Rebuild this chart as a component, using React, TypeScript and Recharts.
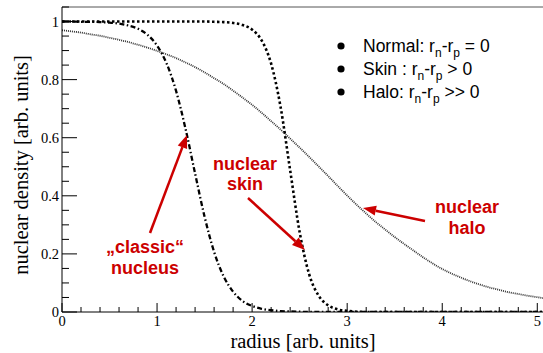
import { LineChart, Line, XAxis, YAxis, ReferenceLine } from 'recharts';

// radius samples [arb. units]
const radius = [
  0, 0.1, 0.2, 0.3, 0.4, 0.5, 0.6, 0.7, 0.8, 0.9,
  1, 1.1, 1.2, 1.3, 1.4, 1.5, 1.6, 1.7, 1.8, 1.9,
  2, 2.1, 2.2, 2.3, 2.4, 2.5, 2.6, 2.7, 2.8, 2.9,
  3, 3.1, 3.2, 3.3, 3.4, 3.5, 3.6, 3.7, 3.8, 3.9,
  4, 4.1, 4.2, 4.3, 4.4, 4.5, 4.6, 4.7, 4.8, 4.9,
  5, 5.1,
];

// "classic" nucleus (dash-dot)
const classic = [
  1.0, 1.0, 0.999, 0.999, 0.998, 0.996, 0.993, 0.986, 0.975, 0.954,
  0.917, 0.856, 0.761, 0.63, 0.477, 0.328, 0.207, 0.123, 0.07, 0.038,
  0.021, 0.011, 0.006, 0.003, 0.002, 0.001, 0, 0, 0, 0,
  0, 0, 0, 0, 0, 0, 0, 0, 0, 0,
  0, 0, 0, 0, 0, 0, 0, 0, 0, 0,
  0, 0,
];

// nuclear skin (dotted)
const skin = [
  1.0, 1.0, 1.0, 1.0, 1.0, 1.0, 1.0, 1.0, 1.0, 1.0,
  1.0, 1.0, 1.0, 1.0, 1.0, 1.0, 0.999, 0.998, 0.995, 0.988,
  0.972, 0.935, 0.855, 0.705, 0.488, 0.275, 0.13, 0.056, 0.023, 0.009,
  0.004, 0.001, 0, 0, 0, 0, 0, 0, 0, 0,
  0, 0, 0, 0, 0, 0, 0, 0, 0, 0,
  0, 0,
];

// nuclear halo (fine dotted)
const halo = [
  0.97, 0.966, 0.962, 0.956, 0.951, 0.944, 0.937, 0.929, 0.92, 0.91,
  0.899, 0.887, 0.874, 0.859, 0.843, 0.825, 0.805, 0.785, 0.762, 0.738,
  0.713, 0.686, 0.657, 0.628, 0.597, 0.566, 0.534, 0.501, 0.468, 0.434,
  0.401, 0.369, 0.339, 0.31, 0.284, 0.258, 0.234, 0.211, 0.188, 0.167,
  0.148, 0.132, 0.118, 0.105, 0.094, 0.084, 0.076, 0.068, 0.062, 0.056,
  0.051, 0.046,
];

const xMajor = [0, 1, 2, 3, 4, 5];
const xMinor = [0.2, 0.4, 0.6, 0.8, 1.2, 1.4, 1.6, 1.8, 2.2, 2.4, 2.6, 2.8, 3.2, 3.4, 3.6, 3.8, 4.2, 4.4, 4.6, 4.8];
const yMajor = [0, 0.2, 0.4, 0.6, 0.8, 1];
const yMinor = [0.05, 0.1, 0.15, 0.25, 0.3, 0.35, 0.45, 0.5, 0.55, 0.65, 0.7, 0.75, 0.85, 0.9, 0.95, 1.05];

const data = radius.map((r, i) => ({
  r,
  classic: classic[i],
  skin: skin[i],
  halo: halo[i],
}));

const RED = '#cc0000';
const SERIF = '"Liberation Serif", "DejaVu Serif", serif';
const SANS = '"Liberation Sans", Arial, sans-serif';

const XTick = (props: any) => {
  const { x, y, payload } = props;
  const major = xMajor.includes(payload.value);
  return (
    <g>
      <line x1={x} x2={x} y1={y} y2={y - (major ? 9 : 5)} stroke="#000" strokeWidth={1} />
      {major && (
        <text x={x} y={y + 14} textAnchor="middle" fontFamily={SERIF} fontSize={14.5} fill="#000">
          {payload.value}
        </text>
      )}
    </g>
  );
};

const YTick = (props: any) => {
  const { x, y, payload } = props;
  const major = yMajor.includes(payload.value);
  return (
    <g>
      <line x1={x} x2={x + (major ? 15 : 7)} y1={y} y2={y} stroke="#000" strokeWidth={1} />
      {major && (
        <text x={x - 3} y={y + 5} textAnchor="end" fontFamily={SERIF} fontSize={14.5} fill="#000">
          {payload.value}
        </text>
      )}
    </g>
  );
};

const Arrow = ({ x1, y1, x2, y2 }: { x1: number; y1: number; x2: number; y2: number }) => {
  const ang = Math.atan2(y2 - y1, x2 - x1);
  const len = 13;
  const w = 5;
  const bx = x2 - len * Math.cos(ang);
  const by = y2 - len * Math.sin(ang);
  const px = -Math.sin(ang) * w;
  const py = Math.cos(ang) * w;
  return (
    <g>
      <line x1={x1} y1={y1} x2={bx} y2={by} stroke={RED} strokeWidth={2.5} />
      <polygon points={`${x2},${y2} ${bx + px},${by + py} ${bx - px},${by - py}`} fill={RED} />
    </g>
  );
};

const legendRows = [
  { label: 'Normal: r', rest: ' = 0', y: 46 },
  { label: 'Skin : r', rest: ' > 0', y: 69 },
  { label: 'Halo: r', rest: ' >> 0', y: 92 },
];

export default function App() {
  return (
    <div style={{ position: 'absolute', left: 0, top: 0, width: 543, height: 353, background: '#fff' }}>
      <LineChart width={543} height={353} data={data} margin={{ top: 7, right: 0, bottom: 0, left: 2 }}>
        <XAxis
          type="number"
          dataKey="r"
          domain={[0, 5.06]}
          allowDataOverflow
          ticks={[...xMajor, ...xMinor].sort((a, b) => a - b)}
          interval={0}
          tickSize={0}
          tickMargin={0}
          tick={<XTick />}
          height={41}
          stroke="#000"
        />
        <YAxis
          type="number"
          domain={[0, 1.05]}
          allowDataOverflow
          ticks={[...yMajor, ...yMinor].sort((a, b) => a - b)}
          interval={0}
          tickSize={0}
          tickMargin={0}
          tick={<YTick />}
          width={60}
          stroke="#000"
        />
        <ReferenceLine y={1.05} stroke="#555" strokeWidth={1} />
        <Line
          type="monotone"
          dataKey="halo"
          stroke="#333"
          strokeWidth={1.8}
          strokeDasharray="1 1"
          dot={false}
          isAnimationActive={false}
        />
        <Line
          type="monotone"
          dataKey="skin"
          stroke="#000"
          strokeWidth={2.6}
          strokeDasharray="2.5 2.5"
          dot={false}
          isAnimationActive={false}
        />
        <Line
          type="monotone"
          dataKey="classic"
          stroke="#000"
          strokeWidth={2.3}
          strokeDasharray="5 2.5 1.5 2.5"
          dot={false}
          isAnimationActive={false}
        />
      </LineChart>
      <svg width={543} height={353} style={{ position: 'absolute', left: 0, top: 0, pointerEvents: 'none' }}>
        <text x={303} y={348} textAnchor="middle" fontFamily={SERIF} fontSize={20.5} fill="#000">
          radius [arb. units]
        </text>
        <text
          x={0}
          y={0}
          transform="translate(28,165) rotate(-90)"
          textAnchor="middle"
          fontFamily={SERIF}
          fontSize={20.5}
          fill="#000"
        >
          nuclear density [arb. units]
        </text>

        {legendRows.map((row) => (
          <g key={row.label}>
            <circle cx={341} cy={row.y} r={3.6} fill="#000" />
            <text x={363} y={row.y + 6} fontFamily={SANS} fontSize={17.5} fill="#000">
              {row.label}
              <tspan fontSize={12} dy={5}>n</tspan>
              <tspan dy={-5}>-r</tspan>
              <tspan fontSize={12} dy={5}>p</tspan>
              <tspan dy={-5}>{row.rest}</tspan>
            </text>
          </g>
        ))}

        <g fontFamily={SANS} fontWeight="bold" fontSize={18} fill={RED} textAnchor="middle">
          <text x={145} y={253}>„classic“</text>
          <text x={145} y={274}>nucleus</text>
          <text x={245} y={170}>nuclear</text>
          <text x={245} y={190}>skin</text>
          <text x={467} y={213}>nuclear</text>
          <text x={467} y={234}>halo</text>
        </g>
        <Arrow x1={150} y1={233} x2={187} y2={135} />
        <Arrow x1={248} y1={198} x2={305} y2={250} />
        <Arrow x1={425} y1={221} x2={363} y2={208} />
      </svg>
    </div>
  );
}
